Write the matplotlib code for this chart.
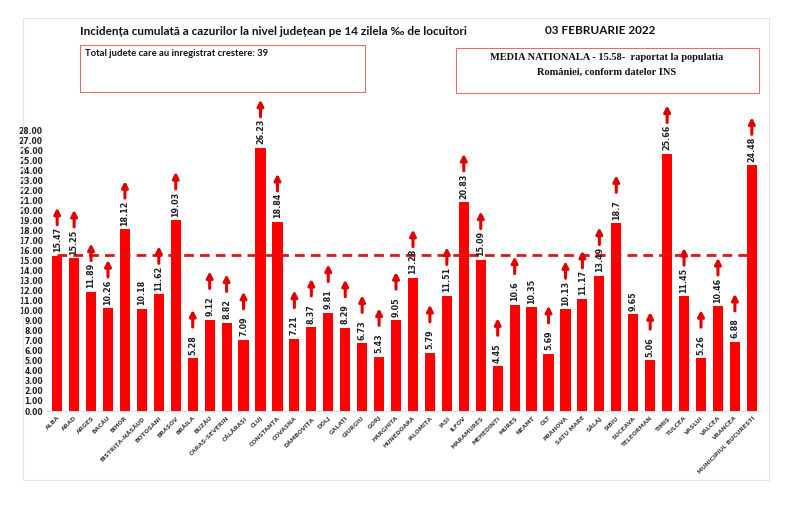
import numpy as np
import matplotlib.pyplot as plt
from matplotlib.patches import Rectangle

judete = ["ALBA", "ARAD", "ARGEȘ", "BACĂU", "BIHOR", "BISTRIȚA-NĂSĂUD", "BOTOȘANI",
          "BRAȘOV", "BRĂILA", "BUZĂU", "CARAȘ-SEVERIN", "CĂLĂRAȘI", "CLUJ", "CONSTANȚA",
          "COVASNA", "DÂMBOVIȚA", "DOLJ", "GALAȚI", "GIURGIU", "GORJ", "HARGHITA",
          "HUNEDOARA", "IALOMIȚA", "IAȘI", "ILFOV", "MARAMUREȘ", "MEHEDINȚI", "MUREȘ",
          "NEAMȚ", "OLT", "PRAHOVA", "SATU MARE", "SĂLAJ", "SIBIU", "SUCEAVA",
          "TELEORMAN", "TIMIȘ", "TULCEA", "VASLUI", "VÂLCEA", "VRANCEA",
          "MUNICIPIUL BUCUREȘTI"]
incidenta = [15.47, 15.25, 11.89, 10.26, 18.12, 10.18, 11.62, 19.03, 5.28, 9.12, 8.82,
             7.09, 26.23, 18.84, 7.21, 8.37, 9.81, 8.29, 6.73, 5.43, 9.05, 13.28, 5.79,
             11.51, 20.83, 15.09, 4.45, 10.6, 10.35, 5.69, 10.13, 11.17, 13.49, 18.7,
             9.65, 5.06, 25.66, 11.45, 5.26, 10.46, 6.88, 24.48]
etichete = ["15.47", "15.25", "11.89", "10.26", "18.12", "10.18", "11.62", "19.03", "5.28",
            "9.12", "8.82", "7.09", "26.23", "18.84", "7.21", "8.37", "9.81", "8.29",
            "6.73", "5.43", "9.05", "13.28", "5.79", "11.51", "20.83", "15.09", "4.45",
            "10.6", "10.35", "5.69", "10.13", "11.17", "13.49", "18.7", "9.65", "5.06",
            "25.66", "11.45", "5.26", "10.46", "6.88", "24.48"]
# judete fara crestere (fara sageata)
fara_crestere = ["BISTRIȚA-NĂSĂUD", "NEAMȚ", "SUCEAVA"]
media_nationala = 15.58

fig = plt.figure(figsize=(8, 5.11), dpi=100)

# chenar exterior
fig.patches.append(Rectangle((23 / 800, 31 / 511), 746 / 800, 462 / 511,
                             transform=fig.transFigure, fill=False,
                             edgecolor='#e4e4e4', linewidth=0.8))

ax = fig.add_axes([47 / 800, 100 / 511, 715 / 800, 316 / 511])
x = np.arange(len(judete))
ax.bar(x, incidenta, width=0.6, color='#ff0000', zorder=2)

ax.hlines(media_nationala, 0, len(judete) - 1, colors='#d81818', linestyles=(0, (3.5, 2.2)),
          linewidth=2.0, zorder=3)

for i, (v, et, j) in enumerate(zip(incidenta, etichete, judete)):
    ax.text(i, v + 0.35, et, rotation=90, ha='center', va='bottom', fontsize=5.8,
            fontweight='bold', color='#222222', zorder=4)
    if j not in fara_crestere:
        ax.annotate('', xy=(i, v + 4.8), xytext=(i, v + 3.1),
                    arrowprops=dict(arrowstyle='-|>,head_width=0.18,head_length=0.35',
                                    color='#e00000', lw=2.2, shrinkA=0, shrinkB=0),
                    zorder=5)

ax.set_xlim(-0.6, len(judete) - 0.4)
ax.set_ylim(0, 31.5)
ax.set_yticks(np.arange(0, 29, 1))
ax.set_yticklabels([f"{t:.2f}" for t in np.arange(0, 29, 1)], fontsize=5.5,
                   fontweight='bold', color='#222222')
ax.set_xticks(x)
ax.set_xticklabels(judete, rotation=45, ha='right', rotation_mode='anchor',
                   fontsize=4.3, fontweight='bold', color='#444444')
ax.tick_params(axis='both', length=0, pad=3)
for s in ['top', 'right', 'left']:
    ax.spines[s].set_visible(False)
ax.spines['bottom'].set_color('#dddddd')
ax.spines['bottom'].set_linewidth(0.6)

fig.text(80 / 800, 1 - 31 / 511, "Incidența cumulată a cazurilor la nivel județean pe 14 zilela ‰ de locuitori",
         fontsize=8.5, fontweight='bold', family=['Lato', 'DejaVu Sans'], va='center', color='#111111')
fig.text(600 / 800, 1 - 30 / 511, "03 FEBRUARIE 2022", fontsize=8.5, fontweight='bold',
         family=['Lato', 'DejaVu Sans'], ha='center', va='center', color='#111111')

# caseta stanga
fig.patches.append(Rectangle((80 / 800, 1 - 92 / 511), 285 / 800, 47 / 511,
                             transform=fig.transFigure, fill=False,
                             edgecolor='#e07070', linewidth=0.8))
fig.text(85 / 800, 1 - 53 / 511, "Total judete care au inregistrat crestere: 39",
         fontsize=6.8, fontweight='bold', family=['Lato', 'DejaVu Sans'], va='center',
         color='#111111')

# caseta dreapta
fig.patches.append(Rectangle((456 / 800, 1 - 93 / 511), 303 / 800, 45 / 511,
                             transform=fig.transFigure, fill=False,
                             edgecolor='#e07070', linewidth=0.8))
fig.text(607 / 800, 1 - 57 / 511, "MEDIA NATIONALA - 15.58-  raportat la populatia",
         fontsize=7.5, fontweight='bold', family=['Liberation Serif', 'DejaVu Serif'],
         ha='center', va='center', color='#111111')
fig.text(607 / 800, 1 - 72 / 511, "României, conform datelor INS",
         fontsize=7.5, fontweight='bold', family=['Liberation Serif', 'DejaVu Serif'],
         ha='center', va='center', color='#111111')

fig.savefig("out.png", dpi=100)
